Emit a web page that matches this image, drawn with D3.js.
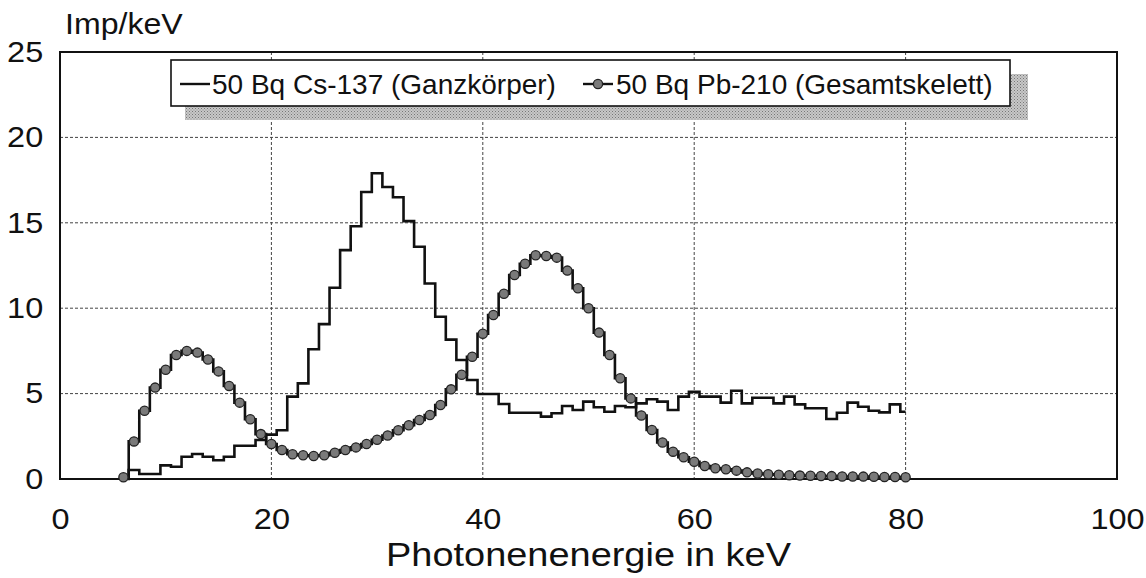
<!DOCTYPE html>
<html>
<head>
<meta charset="utf-8">
<script src="https://cdn.jsdelivr.net/npm/d3@7"></script>
<style>
  html, body { margin: 0; padding: 0; background: #fff; }
  svg text { font-family: "Liberation Sans", Arial, Helvetica, sans-serif; fill: #111; }
</style>
</head>
<body>
<svg id="chart" width="1146" height="578"></svg>
<script>
// ---- data ----
const energies = d3.range(6, 81); // keV, 6..80
const csValues = [0, 0.53, 0.29, 0.29, 0.8, 0.72, 1.3, 1.46, 1.3, 1.1,
  1.3, 1.95, 1.95, 2.28, 2.6, 2.85, 4.82, 5.6, 7.6, 9.07,
  11.2, 13.4, 14.8, 16.8, 17.9, 17.1, 16.5, 15.1, 13.6, 11.45,
  9.5, 8.16, 6.97, 5.8, 4.98, 4.98, 4.39, 3.88, 3.88, 3.88,
  3.65, 3.85, 4.27, 4.04, 4.53, 4.2, 3.94, 4.27, 4.2, 4.43,
  4.67, 4.53, 4.04, 4.82, 5.11, 4.82, 4.82, 4.47, 5.17, 4.43,
  4.76, 4.76, 4.43, 4.82, 4.37, 4.14, 4.14, 3.51, 3.88, 4.47,
  4.23, 4.0, 3.9, 4.37, 3.94];
const pbValues = [0.1, 2.2, 4.0, 5.35, 6.4, 7.26, 7.5, 7.4, 7.0, 6.3,
  5.45, 4.47, 3.5, 2.63, 2.05, 1.7, 1.45, 1.39, 1.35, 1.39,
  1.54, 1.7, 1.85, 2.05, 2.3, 2.55, 2.85, 3.15, 3.45, 3.75,
  4.33, 5.25, 6.1, 7.16, 8.5, 9.6, 10.85, 11.94, 12.6, 13.1,
  13.06, 12.96, 12.2, 11.17, 10.0, 8.57, 7.26, 5.9, 4.72, 3.72,
  2.87, 2.14, 1.6, 1.27, 1.01, 0.76, 0.63, 0.57, 0.49, 0.39,
  0.32, 0.28, 0.25, 0.22, 0.2, 0.19, 0.18, 0.17, 0.15, 0.15,
  0.14, 0.13, 0.12, 0.12, 0.1];
const seriesNames = ["50 Bq Cs-137 (Ganzkörper)", "50 Bq Pb-210 (Gesamtskelett)"];
const xTicks = [0, 20, 40, 60, 80, 100];
const yTicks = [0, 5, 10, 15, 20, 25];
const xTitle = "Photonenenergie in keV";
const yTitle = "Imp/keV";

// ---- layout ----
const svg = d3.select("#chart");
const L = 60, R = 1117, T = 52, B = 479;
const x = d3.scaleLinear().domain([0, 100]).range([L, R]);
const y = d3.scaleLinear().domain([0, 25]).range([B, T]);

// grid
const grid = svg.append("g");
grid.selectAll("line.h").data(yTicks.filter(v => v > 0 && v < 25)).join("line")
  .attr("x1", L).attr("x2", R).attr("y1", d => y(d)).attr("y2", d => y(d))
  .attr("stroke", "#444").attr("stroke-width", 1).attr("stroke-dasharray", "3,2");
grid.selectAll("line.v").data(xTicks.filter(v => v > 0 && v < 100)).join("line")
  .attr("y1", T).attr("y2", B).attr("x1", d => x(d)).attr("x2", d => x(d))
  .attr("stroke", "#444").attr("stroke-width", 1).attr("stroke-dasharray", "3,2");

// axes (labels only)
const yAxis = svg.append("g").attr("transform", `translate(${L},0)`)
  .call(d3.axisLeft(y).tickValues(yTicks).tickSize(0).tickPadding(15));
yAxis.select(".domain").remove();
yAxis.selectAll("text").style("font-size", "29px").attr("fill", "#111")
  .attr("transform", "scale(1.12,1)");

const xAxis = svg.append("g").attr("transform", `translate(0,${B})`)
  .call(d3.axisBottom(x).tickValues(xTicks).tickSize(0).tickPadding(29));
xAxis.select(".domain").remove();
xAxis.selectAll("text").style("font-size", "29px").attr("fill", "#111")
  .attr("transform", "scale(1.12,1)");

svg.append("text").attr("transform", "translate(65,34) scale(1.07,1)")
  .style("font-size", "30px").text(yTitle);
svg.append("text").attr("transform", `translate(${(x(0) + x(100)) / 2},566) scale(1.15,1)`)
  .attr("text-anchor", "middle").style("font-size", "33px").text(xTitle);

// plot frame
svg.append("rect").attr("x", L).attr("y", T).attr("width", R - L).attr("height", B - T)
  .attr("fill", "none").attr("stroke", "#111").attr("stroke-width", 2);

// series
const line = d3.line().curve(d3.curveStep).x((d, i) => x(energies[i])).y(d => y(d));
svg.append("path").datum(pbValues).attr("d", line)
  .attr("fill", "none").attr("stroke", "#111").attr("stroke-width", 2.6);
svg.append("path").datum(csValues).attr("d", line)
  .attr("fill", "none").attr("stroke", "#111").attr("stroke-width", 2.6);
svg.append("g").selectAll("circle").data(pbValues).join("circle")
  .attr("cx", (d, i) => x(energies[i])).attr("cy", d => y(d)).attr("r", 4.6)
  .attr("fill", "#7a7a7a").attr("stroke", "#222").attr("stroke-width", 1.3);

// legend
const lg = svg.append("g");
const defs = svg.append("defs");
const pat = defs.append("pattern").attr("id", "stip").attr("width", 3).attr("height", 3)
  .attr("patternUnits", "userSpaceOnUse");
pat.append("rect").attr("width", 3).attr("height", 3).attr("fill", "#c8c8c8");
pat.append("rect").attr("width", 1).attr("height", 1).attr("fill", "#777");
pat.append("rect").attr("x", 1.5).attr("y", 1.5).attr("width", 1).attr("height", 1).attr("fill", "#8a8a8a");
lg.append("rect").attr("x", 185).attr("y", 74).attr("width", 843).attr("height", 46)
  .attr("fill", "url(#stip)");
lg.append("rect").attr("x", 171).attr("y", 60).attr("width", 839).attr("height", 46)
  .attr("fill", "#fff").attr("stroke", "#111").attr("stroke-width", 1.6);
lg.append("line").attr("x1", 180).attr("x2", 210).attr("y1", 84).attr("y2", 84)
  .attr("stroke", "#111").attr("stroke-width", 2.4);
lg.append("text").attr("x", 212).attr("y", 94).style("font-size", "28px").text(seriesNames[0]);
lg.append("line").attr("x1", 583).attr("x2", 613).attr("y1", 84).attr("y2", 84)
  .attr("stroke", "#111").attr("stroke-width", 2.4);
lg.append("circle").attr("cx", 598).attr("cy", 84).attr("r", 4.6)
  .attr("fill", "#7a7a7a").attr("stroke", "#222").attr("stroke-width", 1.3);
lg.append("text").attr("x", 616).attr("y", 94).style("font-size", "28px").text(seriesNames[1]);
</script>
</body>
</html>
